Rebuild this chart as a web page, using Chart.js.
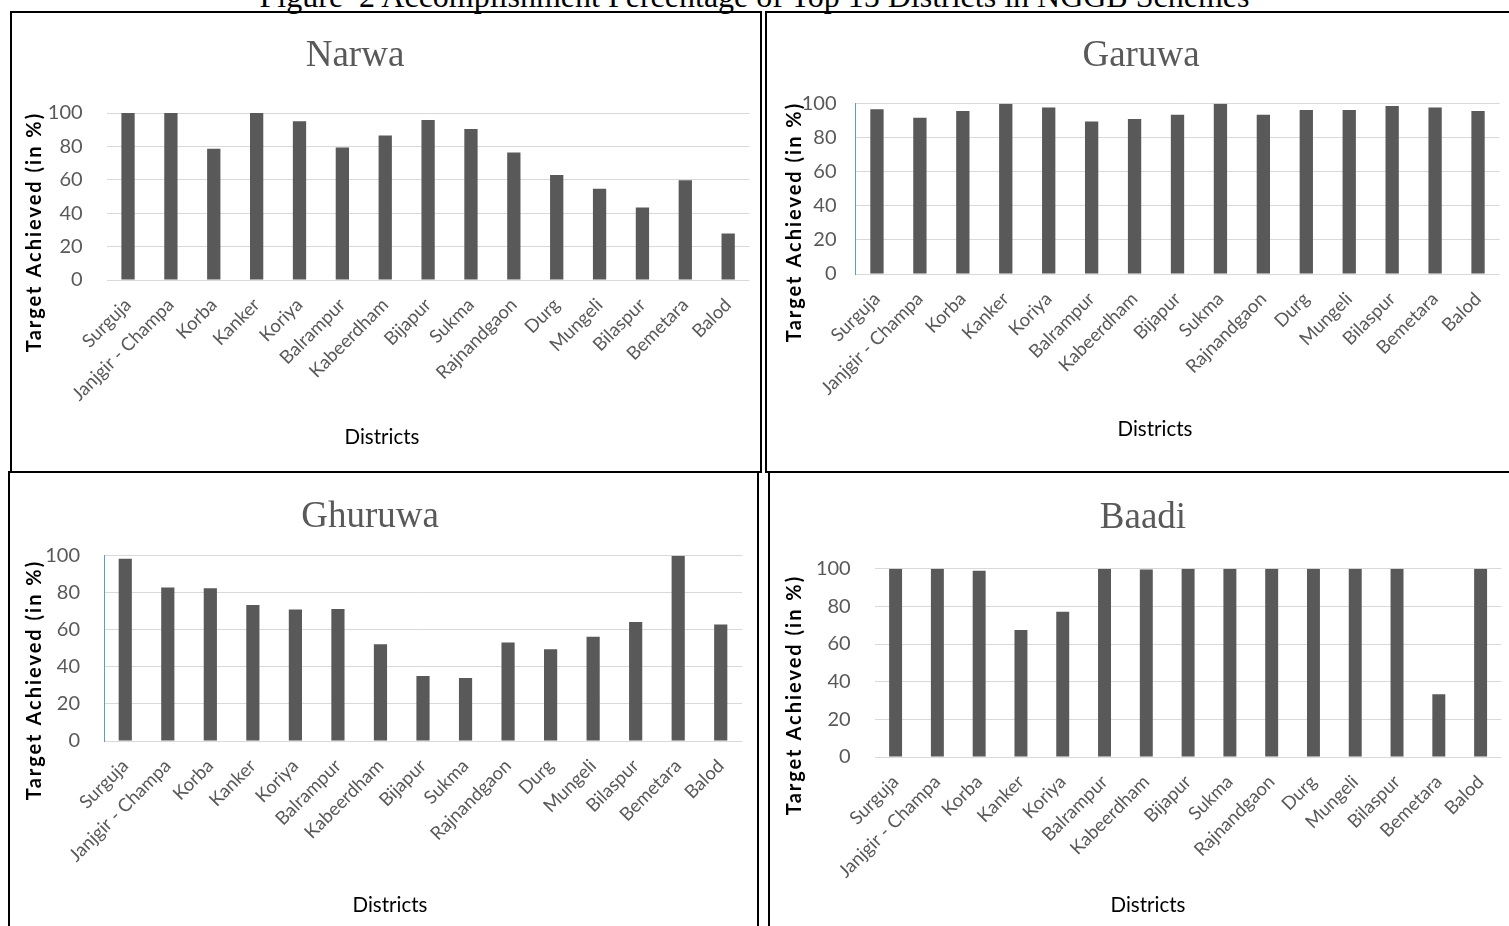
<!DOCTYPE html>
<html>
<head>
<meta charset="utf-8">
<script src="https://cdn.jsdelivr.net/npm/chart.js@4.4.1/dist/chart.umd.min.js"></script>
<style>
  html, body { margin: 0; padding: 0; background: #ffffff; }
  body { width: 1509px; height: 926px; position: relative; overflow: hidden; }
  .caption {
    position: absolute; left: 0; width: 1509px; top: -20px;
    text-align: center; font-family: "Liberation Serif", "Times New Roman", serif;
    font-size: 32px; line-height: 32px; color: #000; white-space: pre;
  }
  .frame { position: absolute; border: 2px solid #000; box-sizing: border-box; }
  canvas { position: absolute; }
</style>
</head>
<body>
<div class="caption">Figure  2 Accomplishment Percentage of Top 15 Districts in NGGB Schemes</div>

<div class="frame" style="left:10px; top:11px; width:752px; height:462px;"></div>
<div class="frame" style="left:765px; top:11px; width:760px; height:462px;"></div>
<div class="frame" style="left:8px; top:471px; width:751px; height:470px;"></div>
<div class="frame" style="left:768px; top:471px; width:760px; height:470px;"></div>

<canvas id="narwa"></canvas>
<canvas id="garuwa"></canvas>
<canvas id="ghuruwa"></canvas>
<canvas id="baadi"></canvas>

<script>
// Districts on the horizontal axis (same order in every scheme)
const districts = ["Surguja", "Janjgir - Champa", "Korba", "Kanker", "Koriya", "Balrampur",
  "Kabeerdham", "Bijapur", "Sukma", "Rajnandgaon", "Durg", "Mungeli", "Bilaspur", "Bemetara", "Balod"];

// Target achieved (in %) per district, one list per scheme
const narwa   = [100, 100, 78.6, 100, 95.0, 79.4, 86.6, 95.8, 90.4, 76.4, 62.8, 54.6, 43.4, 59.8, 27.8];
const garuwa  = [96.7, 91.8, 95.7, 100, 97.8, 89.6, 91.0, 93.5, 100, 93.5, 96.3, 96.3, 98.6, 97.8, 95.7];
const ghuruwa = [98.4, 82.9, 82.4, 73.4, 70.9, 71.2, 52.2, 35.1, 34.0, 53.1, 49.5, 56.3, 64.2, 100, 62.9];
const baadi   = [100, 100, 98.9, 67.4, 77.2, 100, 99.6, 100, 100, 100, 100, 100, 100, 33.3, 100];

// Value axis ticks
const yTicks = [0, 20, 40, 60, 80, 100];

const BAR = "#595959";
const GRID = "#d9d9d9";
const LABEL = "#595959";
const SANS = "Lato, 'Open Sans', sans-serif";
const SERIF = "'Liberation Serif', 'Times New Roman', serif";

// Panel geometry in page pixels: canvas box, plot box and text anchors
const panels = [
  { id: "narwa", title: "Narwa", values: narwa,
    canvas: { x: 12, y: 13, w: 748, h: 458 },
    plot: { l: 106.6, r: 749.6, t: 113, b: 280 },
    titleAt: [355, 56], yTitleAt: [35, 232], xTitleAt: [382, 437],
    tickPad: 24, axisLine: false },
  { id: "garuwa", title: "Garuwa", values: garuwa,
    canvas: { x: 767, y: 13, w: 742, h: 458 },
    plot: { l: 855.5, r: 1499.5, t: 103.7, b: 274 },
    titleAt: [1141, 56], yTitleAt: [795, 222], xTitleAt: [1155, 429],
    tickPad: 19, axisLine: true },
  { id: "ghuruwa", title: "Ghuruwa", values: ghuruwa,
    canvas: { x: 10, y: 473, w: 747, h: 453 },
    plot: { l: 104, r: 742, t: 555.7, b: 741 },
    titleAt: [370, 517], yTitleAt: [35, 680], xTitleAt: [390, 905],
    tickPad: 24, axisLine: true },
  { id: "baadi", title: "Baadi", values: baadi,
    canvas: { x: 770, y: 473, w: 739, h: 453 },
    plot: { l: 874.7, r: 1501.5, t: 568.7, b: 757 },
    titleAt: [1143, 518], yTitleAt: [795, 695], xTitleAt: [1148, 905],
    tickPad: 24, axisLine: false }
];

// Draws the chart title and both axis titles at fixed anchors
const panelText = {
  id: "panelText",
  afterDraw(chart, args, opts) {
    const ctx = chart.ctx;
    const ox = opts.origin[0], oy = opts.origin[1];
    ctx.save();
    ctx.textAlign = "center";
    ctx.textBaseline = "middle";

    ctx.fillStyle = "#595959";
    ctx.font = "37px " + SERIF;
    ctx.fillText(opts.title, opts.titleAt[0] - ox, opts.titleAt[1] - oy);

    ctx.fillStyle = "#000000";
    ctx.font = "20.5px " + SANS;
    ctx.fillText("Districts", opts.xTitleAt[0] - ox, opts.xTitleAt[1] - oy);

    ctx.translate(opts.yTitleAt[0] - ox, opts.yTitleAt[1] - oy);
    ctx.rotate(-Math.PI / 2);
    ctx.font = "bold 20px " + SANS;
    ctx.letterSpacing = "2px";
    ctx.fillText("Target Achieved (in %)", 0, 0);
    ctx.restore();
  }
};

panels.forEach(p => {
  const cv = document.getElementById(p.id);
  cv.width = p.canvas.w;
  cv.height = p.canvas.h;
  cv.style.left = p.canvas.x + "px";
  cv.style.top = p.canvas.y + "px";

  const yWidth = p.plot.l - p.canvas.x;
  const xHeight = (p.canvas.y + p.canvas.h) - p.plot.b;

  new Chart(cv, {
    type: "bar",
    data: {
      labels: districts,
      datasets: [{
        data: p.values,
        backgroundColor: BAR,
        borderWidth: 0,
        barPercentage: 0.31,
        categoryPercentage: 1
      }]
    },
    options: {
      responsive: false,
      animation: false,
      layout: {
        padding: {
          left: 0,
          top: p.plot.t - p.canvas.y,
          right: (p.canvas.x + p.canvas.w) - p.plot.r,
          bottom: 0
        }
      },
      plugins: {
        legend: { display: false },
        tooltip: { enabled: false },
        title: { display: false },
        panelText: {
          origin: [p.canvas.x, p.canvas.y],
          title: p.title,
          titleAt: p.titleAt, yTitleAt: p.yTitleAt, xTitleAt: p.xTitleAt
        }
      },
      scales: {
        x: {
          grid: { display: false },
          border: { display: false },
          ticks: {
            color: LABEL,
            font: { family: SANS, size: 18.5 },
            minRotation: 45, maxRotation: 45,
            autoSkip: false, padding: 6
          },
          afterFit: s => { s.height = xHeight; }
        },
        y: {
          min: 0, max: 100,
          afterBuildTicks: s => { s.ticks = yTicks.map(v => ({ value: v })); },
          grid: { color: GRID, lineWidth: 1, drawTicks: false },
          border: { display: p.axisLine, color: "#5b9bd5", width: 1 },
          ticks: {
            color: LABEL,
            font: { family: SANS, size: 20 },
            padding: p.tickPad
          },
          afterFit: s => { s.width = yWidth; }
        }
      }
    },
    plugins: [panelText]
  });
});
</script>
</body>
</html>
